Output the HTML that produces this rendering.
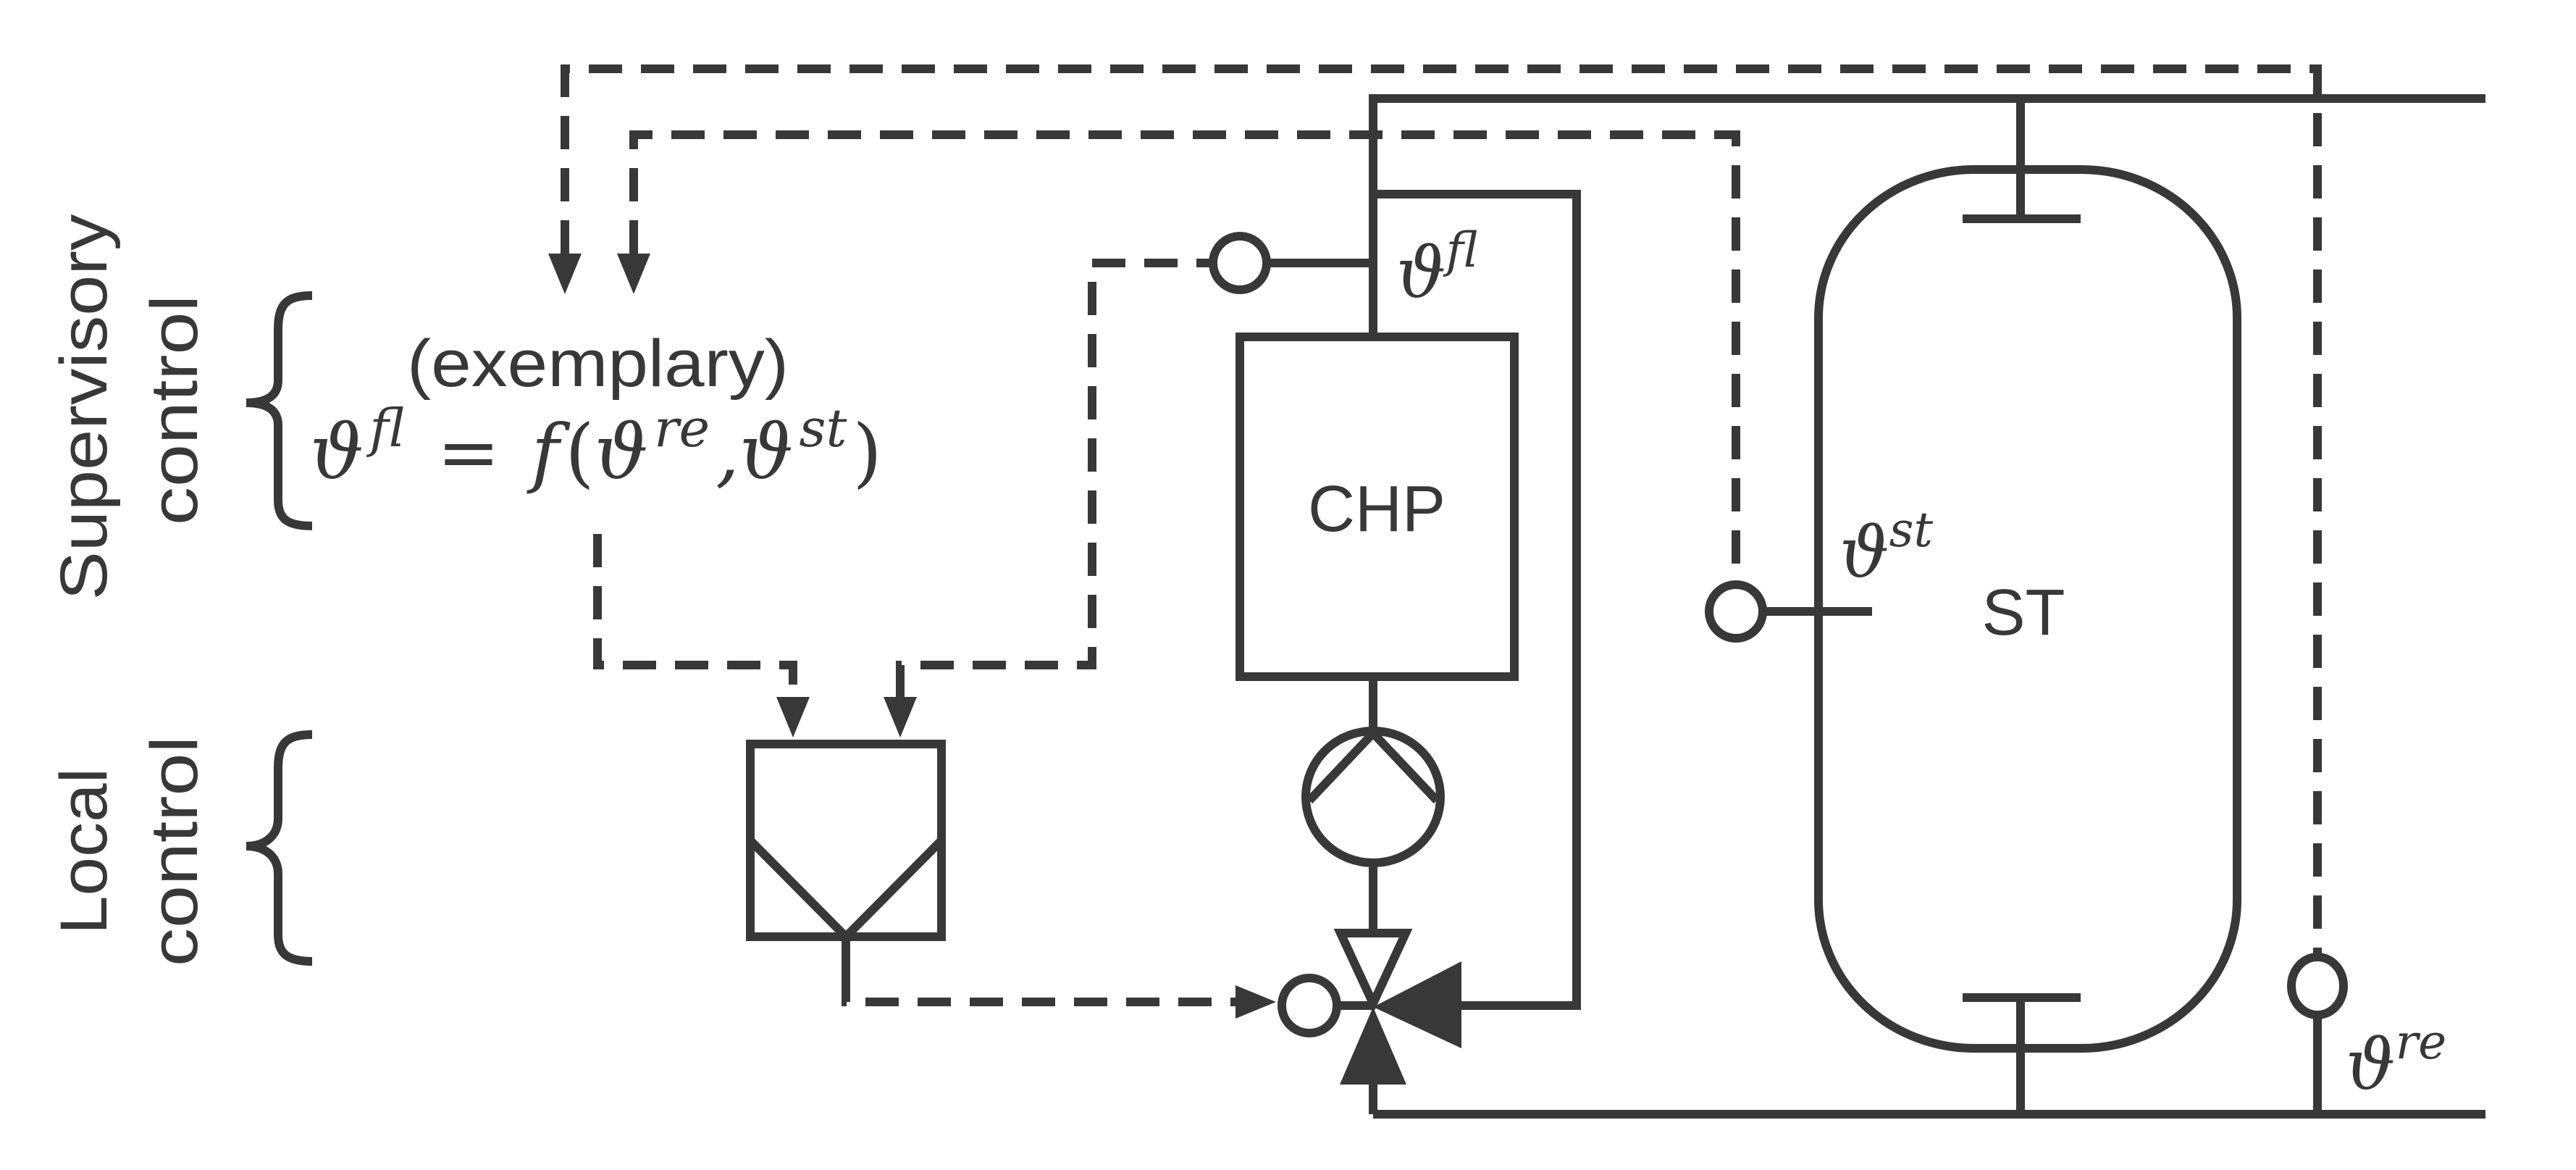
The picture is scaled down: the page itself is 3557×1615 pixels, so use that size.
<!DOCTYPE html>
<html><head><meta charset="utf-8"><style>
html,body{margin:0;padding:0;background:#fff;overflow:hidden}
svg{display:block}
.t{font-family:"Liberation Sans","DejaVu Sans",sans-serif;fill:#383838}
.m{font-family:"DejaVu Serif","Liberation Serif",serif;font-style:italic;fill:#383838}
</style></head><body>
<svg width="3557" height="1615" viewBox="0 0 3557 1615" xmlns="http://www.w3.org/2000/svg">
<g stroke="#383838" stroke-width="12" fill="none">
 <polyline points="3432,136 1896,136 1896,465"/>
 <line x1="1896" y1="934" x2="1896" y2="1009"/>
 <line x1="1896" y1="1191" x2="1896" y2="1288"/>
 <line x1="1896" y1="1497" x2="1896" y2="1538"/>
 <line x1="1896" y1="1538" x2="3432" y2="1538"/>
 <polyline points="1896,268 2177,268 2177,1388 2018,1388"/>
 <line x1="1750" y1="363" x2="1896" y2="363"/>
 <rect x="1712" y="465" width="379" height="469"/>
 <ellipse cx="1896" cy="1100" rx="93" ry="91"/>
 <polyline points="1808,1105 1896,1012 1984,1105"/>
 <polygon points="1851,1288 1941,1288 1896,1385"/>
 <line x1="1848" y1="1388" x2="1896" y2="1388"/>
 <circle cx="1808" cy="1388" r="38"/>
 <circle cx="1712" cy="363" r="37"/>
 <rect x="2511" y="234" width="578" height="1213" rx="215" ry="205"/>
 <line x1="2790" y1="136" x2="2790" y2="302"/>
 <line x1="2710" y1="302" x2="2873" y2="302"/>
 <line x1="2710" y1="1377" x2="2873" y2="1377"/>
 <line x1="2790" y1="1377" x2="2790" y2="1538"/>
 <circle cx="2397" cy="844" r="37"/>
 <line x1="2434" y1="844" x2="2585" y2="844"/>
 <ellipse cx="3200" cy="1361" rx="36" ry="40"/>
 <line x1="3200" y1="1401" x2="3200" y2="1538"/>
 <rect x="1036" y="1027" width="264" height="266"/>
 <polyline points="1036,1160 1168,1293 1300,1160"/>
 <line x1="1168" y1="1293" x2="1168" y2="1338"/>
 <path d="M431,408 C395,408 384,420 384,455 L384,525 C384,545 370,556 340,556 C370,556 384,567 384,587 L384,690 C384,715 395,726 431,726"/>
 <path d="M431,1014 C395,1014 384,1026 384,1061 L384,1130 C384,1150 370,1168 340,1168 C370,1168 384,1186 384,1206 L384,1290 C384,1315 395,1327 431,1327"/>
</g>
<g fill="#383838">
 <polygon points="1896,1390 1850,1497 1942,1497"/>
 <polygon points="1896,1390 2018,1327 2018,1447"/>
 <polygon points="757,350 803,350 780,406"/>
 <polygon points="852,350 898,350 875,406"/>
 <polygon points="1072,962 1118,962 1095,1018"/>
 <polygon points="1220,962 1266,962 1243,1018"/>
 <polygon points="1706,1360 1706,1406 1762,1383"/>
</g>
<g stroke="#383838" stroke-width="12" fill="none" stroke-dasharray="46 26">
 <polyline points="780,350 780,95 3200,95 3200,1321"/>
 <polyline points="875,350 875,186 2397,186 2397,807"/>
 <polyline points="825,737 825,918 1095,918 1095,962"/>
 <polyline points="1243,962 1243,918 1508,918 1508,363 1675,363"/>
 <polyline points="1168,1338 1168,1383 1706,1383"/>
</g>
<text class="t" font-size="92" transform="translate(147,562) rotate(-90)" text-anchor="middle" textLength="533" lengthAdjust="spacingAndGlyphs">Supervisory</text>
<text class="t" font-size="92" transform="translate(272,566) rotate(-90)" text-anchor="middle" textLength="318" lengthAdjust="spacingAndGlyphs">control</text>
<text class="t" font-size="92" transform="translate(147,1175) rotate(-90)" text-anchor="middle" textLength="230" lengthAdjust="spacingAndGlyphs">Local</text>
<text class="t" font-size="92" transform="translate(272,1175) rotate(-90)" text-anchor="middle" textLength="318" lengthAdjust="spacingAndGlyphs">control</text>
<text class="t" font-size="92" x="562" y="533" textLength="527" lengthAdjust="spacingAndGlyphs">(exemplary)</text>
<text class="m" font-size="104" x="428" y="660">ϑ<tspan font-size="72" dy="-44" dx="8">fl</tspan><tspan dy="44" dx="12" font-style="normal"> = </tspan><tspan dx="10">f</tspan><tspan font-style="normal" dx="8">(</tspan>ϑ<tspan font-size="72" dy="-44" dx="8">re</tspan><tspan dy="44" dx="8">,ϑ</tspan><tspan font-size="72" dy="-44" dx="8">st</tspan><tspan dy="44" dx="8" font-style="normal">)</tspan></text>
<text class="t" font-size="90" x="1901" y="733" text-anchor="middle">CHP</text>
<text class="t" font-size="90" x="2794" y="876" text-anchor="middle">ST</text>
<text class="m" font-size="96" x="1928" y="410">ϑ<tspan font-size="66" dy="-42">fl</tspan></text>
<text class="m" font-size="96" x="2540" y="796">ϑ<tspan font-size="66" dy="-42">st</tspan></text>
<text class="m" font-size="96" x="3239" y="1503">ϑ<tspan font-size="66" dy="-42">re</tspan></text>
</svg>
</body></html>
